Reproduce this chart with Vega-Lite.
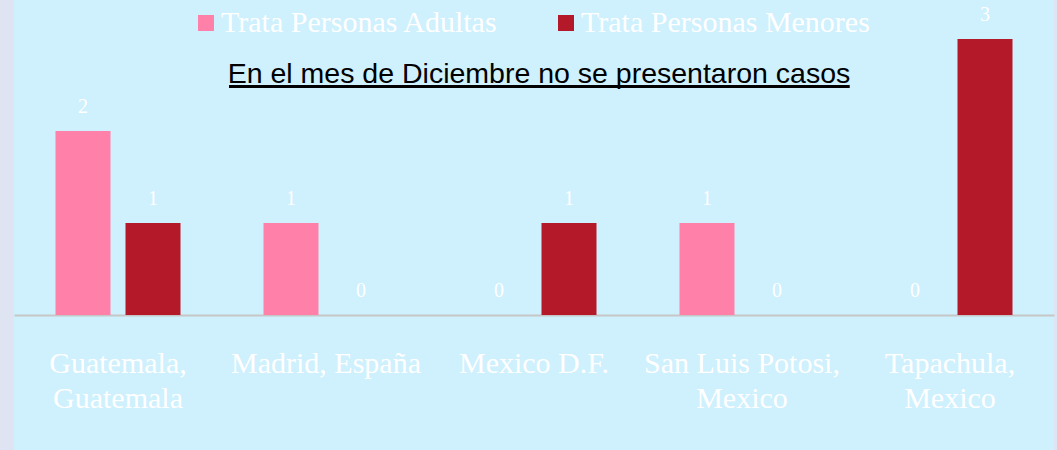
{
  "$schema": "https://vega.github.io/schema/vega-lite/v6.json",
  "width": 1040,
  "height": 450,
  "autosize": {"type": "none"},
  "padding": {"left": 14, "top": 0, "right": 3, "bottom": 0},
  "background": "#dfe4f3",
  "config": {"view": {"fill": "#cff0fd", "stroke": null}},
  "title": {
    "text": "En el mes de Diciembre no se presentaron casos",
    "font": "Liberation Sans",
    "fontSize": 28.5,
    "fontWeight": "normal",
    "color": "#000000",
    "anchor": "middle",
    "baseline": "alphabetic",
    "offset": 0,
    "dy": 111,
    "dx": 5
  },
  "data": {
    "values": [
      {"ciudad": "Guatemala, Guatemala", "tipo": "Trata Personas Adultas", "casos": 2},
      {"ciudad": "Guatemala, Guatemala", "tipo": "Trata Personas Menores", "casos": 1},
      {"ciudad": "Madrid, España", "tipo": "Trata Personas Adultas", "casos": 1},
      {"ciudad": "Madrid, España", "tipo": "Trata Personas Menores", "casos": 0},
      {"ciudad": "Mexico D.F.", "tipo": "Trata Personas Adultas", "casos": 0},
      {"ciudad": "Mexico D.F.", "tipo": "Trata Personas Menores", "casos": 1},
      {"ciudad": "San Luis Potosi, Mexico", "tipo": "Trata Personas Adultas", "casos": 1},
      {"ciudad": "San Luis Potosi, Mexico", "tipo": "Trata Personas Menores", "casos": 0},
      {"ciudad": "Tapachula, Mexico", "tipo": "Trata Personas Adultas", "casos": 0},
      {"ciudad": "Tapachula, Mexico", "tipo": "Trata Personas Menores", "casos": 3}
    ]
  },
  "layer": [
    {
      "mark": {"type": "bar"},
      "encoding": {
        "x": {
          "field": "ciudad",
          "type": "nominal",
          "sort": ["Guatemala, Guatemala", "Madrid, España", "Mexico D.F.", "San Luis Potosi, Mexico", "Tapachula, Mexico"],
          "scale": {"paddingInner": 0, "paddingOuter": 0},
          "axis": {
            "title": null,
            "labelFont": "Liberation Serif",
            "labelFontSize": 30,
            "labelColor": "#ffffff",
            "labelAngle": 0,
            "ticks": false,
            "tickSize": 0,
            "grid": false,
            "domainColor": "#c6c6c6",
            "domainWidth": 2,
            "labelPadding": 57,
            "labelBaseline": "alphabetic",
            "labelLineHeight": 35,
            "labelLimit": 400,
            "offset": -135,
            "labelExpr": "length(datum.value) > 14 && indexof(datum.value, ', ') > 0 ? [slice(datum.value, 0, indexof(datum.value, ', ') + 1), slice(datum.value, indexof(datum.value, ', ') + 2)] : datum.value"
          }
        },
        "xOffset": {
          "field": "tipo",
          "type": "nominal",
          "scale": {"paddingInner": 0.2143, "paddingOuter": 0.593}
        },
        "y": {
          "field": "casos",
          "type": "quantitative",
          "scale": {"domain": [-1.467, 3.424], "nice": false, "zero": false},
          "axis": null
        },
        "y2": {"datum": 0},
        "color": {
          "field": "tipo",
          "type": "nominal",
          "scale": {"domain": ["Trata Personas Adultas", "Trata Personas Menores"], "range": ["#ff80a8", "#b4192a"]},
          "legend": {
            "orient": "none",
            "legendX": 177,
            "legendY": 8,
            "direction": "horizontal",
            "title": null,
            "symbolType": "square",
            "symbolSize": 256,
            "symbolStrokeWidth": 0,
            "labelFont": "Liberation Serif",
            "labelFontSize": 30,
            "labelColor": "#ffffff",
            "labelLimit": 500,
            "labelOffset": 0,
            "columnPadding": 52,
            "padding": 0
          }
        }
      }
    },
    {
      "mark": {"type": "text", "font": "Liberation Serif", "fontSize": 20, "color": "#ffffff", "baseline": "alphabetic", "dy": -18},
      "encoding": {
        "x": {"field": "ciudad", "type": "nominal", "sort": ["Guatemala, Guatemala", "Madrid, España", "Mexico D.F.", "San Luis Potosi, Mexico", "Tapachula, Mexico"]},
        "xOffset": {"field": "tipo", "type": "nominal"},
        "y": {"field": "casos", "type": "quantitative"},
        "text": {"field": "casos", "type": "quantitative"}
      }
    },
    {
      "mark": {"type": "rule", "color": "#000000", "strokeWidth": 3},
      "encoding": {
        "x": {"datum": "Madrid, España", "bandPosition": 0.035},
        "x2": {"datum": "Tapachula, Mexico", "bandPosition": 0.015},
        "y": {"datum": 2.484}
      }
    }
  ]
}
